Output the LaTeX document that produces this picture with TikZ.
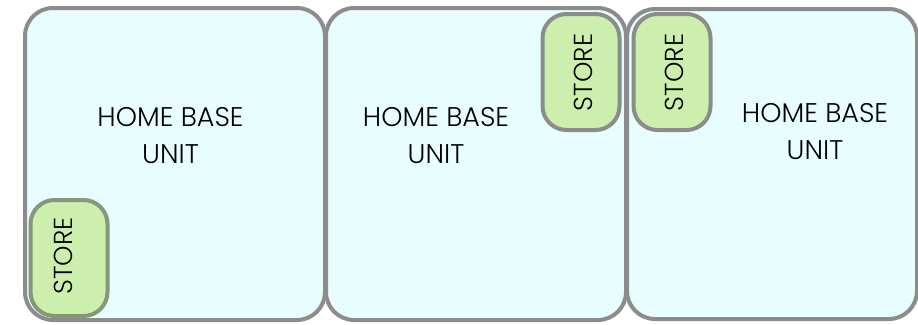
\documentclass[tikz,border=0pt]{standalone}
\usepackage{fontspec}
\setmainfont{Poppins Light}
\definecolor{unitfill}{HTML}{E8FDFD}
\definecolor{storefill}{HTML}{CDEFAE}
\definecolor{edgegray}{HTML}{8C8C8C}
\definecolor{storeedge}{HTML}{86977A}
\begin{document}
\begin{tikzpicture}[x=1pt,y=-1pt,
  unitbox/.style={draw=edgegray,line width=4pt,fill=unitfill,rounded corners=28pt,inner sep=0pt},
  storebox/.style={draw=edgegray,line width=4pt,fill=storefill,rounded corners=24pt,inner sep=0pt,minimum width=77pt,minimum height=116pt},
  unitlabel/.style={anchor=base,font=\fontsize{27}{32}\selectfont,inner sep=0pt},
  storelabel/.style={rotate=90,font=\fontsize{26}{30}\selectfont,inner sep=0pt}]
\useasboundingbox (0,0) rectangle (918,324);
\node[unitbox,minimum width=300pt,minimum height=312pt] (u1) at (175,164) {};
\node[unitbox,minimum width=300pt,minimum height=312pt] (u2) at (476,164) {};
\node[unitbox,minimum width=290pt,minimum height=310pt] (u3) at (772,164) {};
\node[storebox,draw=storeedge] (s1) at (69,258) {};
\node[storebox] (s2) at (581,72) {};
\node[storebox] (s3) at (672,72) {};
\node[unitlabel] (t1a) at (170.5,126) {HOME BASE};
\node[unitlabel] (t1b) at (170.5,163) {UNIT};
\node[unitlabel] (t2a) at (436,126) {HOME BASE};
\node[unitlabel] (t2b) at (436,163) {UNIT};
\node[unitlabel] (t3a) at (815,122) {HOME BASE};
\node[unitlabel] (t3b) at (815,159) {UNIT};
\node[storelabel] (l1) at (63,256) {STORE};
\node[storelabel] (l2) at (583,72.5) {STORE};
\node[storelabel] (l3) at (674,72.5) {STORE};
\end{tikzpicture}
\end{document}
